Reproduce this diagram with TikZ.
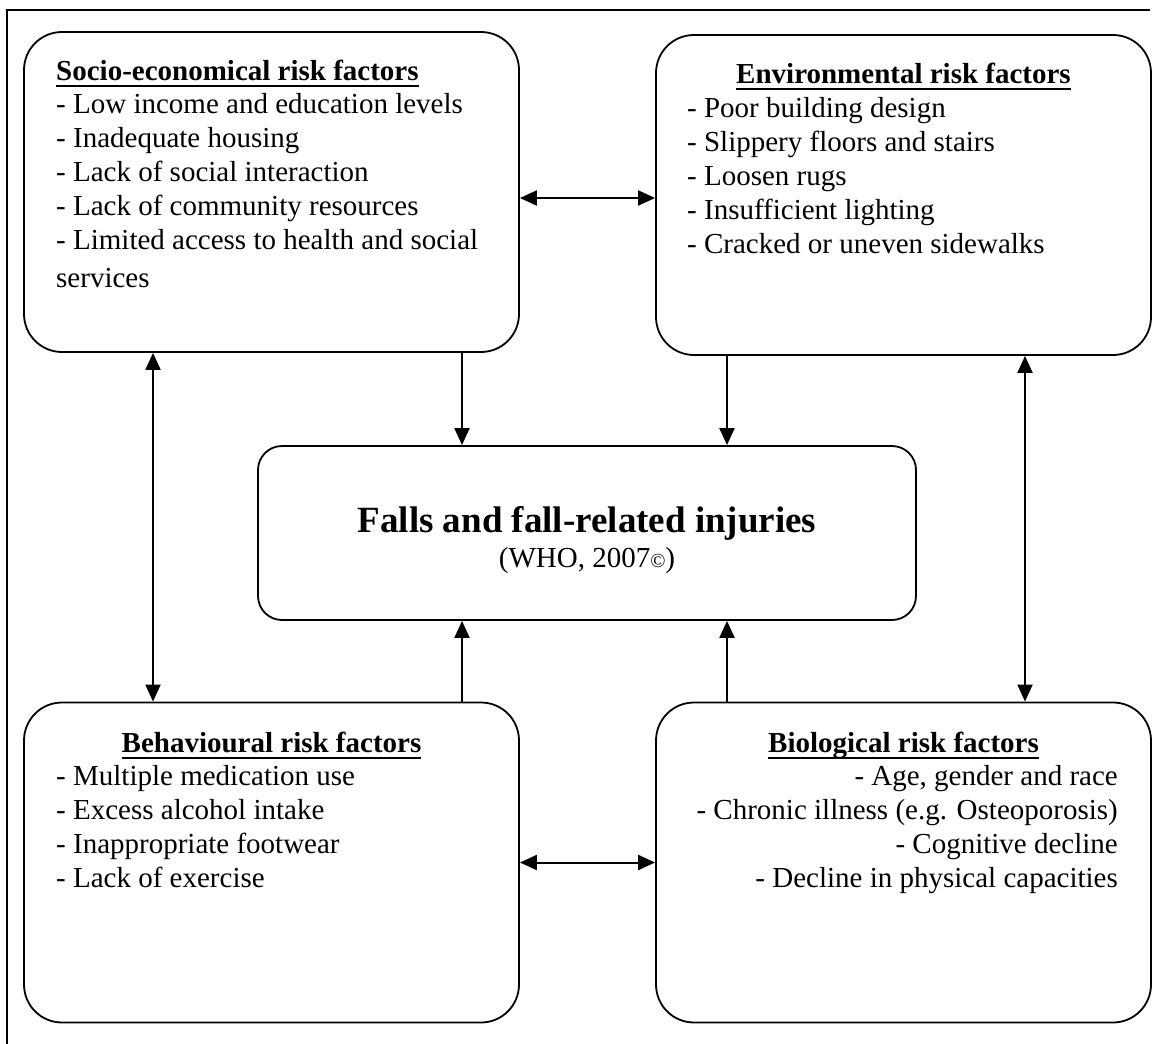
\documentclass[tikz,border=0pt]{standalone}
\usepackage{fontspec}
\setmainfont{Liberation Serif}
\usetikzlibrary{arrows.meta,positioning}
\newcommand{\undertitle}[1]{\setbox0\hbox{\bfseries #1}\rlap{\rule[-6.5pt]{\wd0}{1.8pt}}\box0}
\tikzset{
  riskbox/.style={draw, line width=1.8pt, rounded corners=38pt, minimum width=495pt, minimum height=320pt, inner sep=0pt},
  fallbox/.style={draw, line width=1.8pt, rounded corners=24pt, minimum width=658pt, minimum height=174pt, inner sep=0pt},
  boxtitle/.style={inner sep=0pt, font=\fontsize{29}{34}\selectfont\bfseries},
  boxlist/.style={inner sep=0pt, font=\fontsize{29}{34}\selectfont},
  link/.style={line width=2pt, -{Triangle[length=17pt,width=15pt]}},
  dlink/.style={line width=2pt, {Triangle[length=17pt,width=15pt]}-{Triangle[length=17pt,width=15pt]}}
}
\begin{document}
\begin{tikzpicture}[x=1pt, y=-1pt]
\useasboundingbox (0,0) rectangle (1160,1044);
\draw[line width=1.8pt] (1150,10) -- (7,10) -- (7,1044);
\node[riskbox] (soc) at (271.5,192) {};
\node[riskbox] (env) at (903.5,195) {};
\node[riskbox] (beh) at (271.5,862.5) {};
\node[riskbox] (bio) at (903.5,862.5) {};
\node[fallbox] (fall) at (587,533) {};
\node[boxtitle, anchor=base west] (soct) at (56,80) {\undertitle{Socio-economical risk factors}};
\node[boxtitle, anchor=base] (envt) at (903.5,83) {\undertitle{Environmental risk factors}};
\node[boxtitle, anchor=base] (beht) at (271.5,752) {\undertitle{Behavioural risk factors}};
\node[boxtitle, anchor=base] (biot) at (903.5,752) {\undertitle{Biological risk factors}};
\node[boxlist, align=left, anchor=north west] (socl) at (56,91) {\rule{0pt}{22pt}- Low income and education levels\\
  - Inadequate housing\\ - Lack of social interaction\\ - Lack of community resources\\
  - Limited access to health and social\\[4pt] services};
\node[boxlist, align=left, anchor=north west] (envl) at (687,95) {\rule{0pt}{22pt}- Poor building design\\
  - Slippery floors and stairs\\ - Loosen rugs\\ - Insufficient lighting\\ - Cracked or uneven sidewalks};
\node[boxlist, align=left, anchor=north west] (behl) at (56,763) {\rule{0pt}{22pt}- Multiple medication use\\
  - Excess alcohol intake\\ - Inappropriate footwear\\ - Lack of exercise};
\node[boxlist, align=right, anchor=north east] (biol) at (1118,763) {\rule{0pt}{22pt}- Age, gender and race\\
  - Chronic illness (e.g. Osteoporosis)\\ - Cognitive decline\\ - Decline in physical capacities};
\node[font=\fontsize{37}{40}\selectfont\bfseries, anchor=base, inner sep=0pt] (fallt) at (587,532) {Falls and fall-related injuries};
\node[font=\fontsize{29}{32}\selectfont, anchor=base, inner sep=0pt] (who) at (587,567) {(WHO, 2007{\fontsize{20}{20}\selectfont\textcopyright})};
\draw[dlink] ([yshift=-6pt]soc.east) -- ([yshift=-3pt]env.west);
\draw[dlink] (beh.east) -- (bio.west);
\draw[dlink] ([xshift=-118.5pt]soc.south) -- ([xshift=-118.5pt]beh.north);
\draw[dlink] ([xshift=121.5pt]env.south) -- ([xshift=121.5pt]bio.north);
\draw[link] ([xshift=190.5pt]soc.south) -- ([xshift=-125pt]fall.north);
\draw[link] ([xshift=-176.5pt]env.south) -- ([xshift=140pt]fall.north);
\draw[link] ([xshift=190.5pt]beh.north) -- ([xshift=-125pt]fall.south);
\draw[link] ([xshift=-176.5pt]bio.north) -- ([xshift=140pt]fall.south);
\end{tikzpicture}
\end{document}
